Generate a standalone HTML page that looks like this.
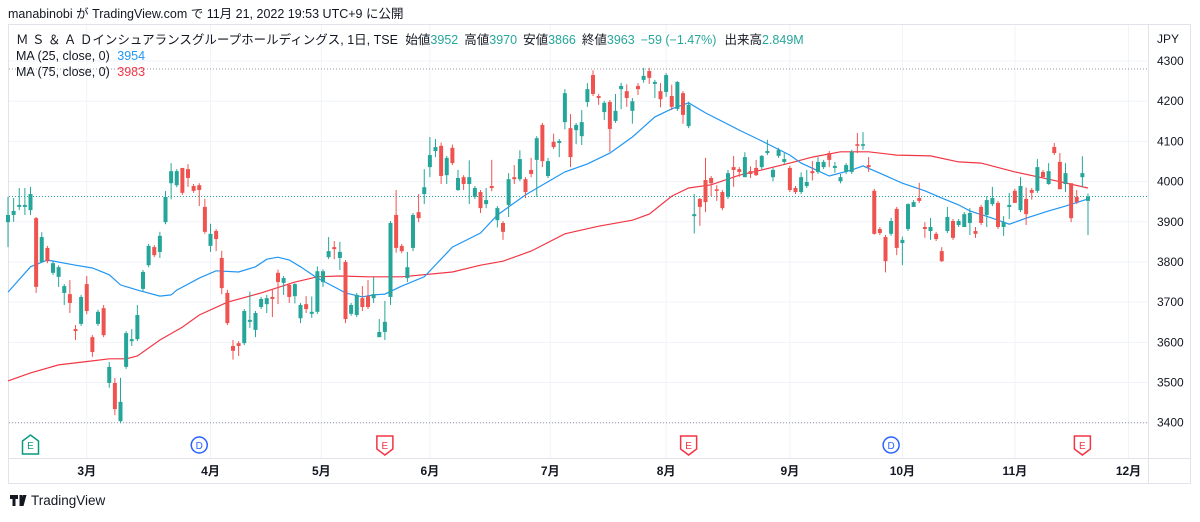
<!DOCTYPE html>
<html><head><meta charset="utf-8">
<style>
body{margin:0;background:#fff;width:1200px;height:517px;overflow:hidden;font-family:"Liberation Sans","Noto Sans CJK JP",sans-serif;}
svg text{font-family:"Liberation Sans","Noto Sans CJK JP",sans-serif;}
</style></head>
<body>
<svg id="chart" width="1200" height="517" xmlns="http://www.w3.org/2000/svg">
<text x="8" y="18" font-size="12.5" fill="#131722">manabinobi が TradingView.com で 11月 21, 2022 19:53 UTC+9 に公開</text>
<rect x="8.5" y="24.5" width="1182" height="459" fill="none" stroke="#e0e3eb"/>
<line x1="1148.5" y1="24" x2="1148.5" y2="484" stroke="#e0e3eb"/>
<line x1="8" y1="458.5" x2="1191" y2="458.5" stroke="#e0e3eb"/>
<g id="grid"></g>
<g id="refs"></g>
<g id="mas"></g>
<g id="candles"></g>
<g id="yaxis"></g>
<g id="xaxis"></g>
<g id="events"></g>
<text x="1157" y="43" font-size="12" fill="#131722">JPY</text>
<text x="16" y="44" font-size="12.5" fill="#131722">Ｍ Ｓ ＆ Ａ Ｄインシュアランスグループホールディングス, 1日, TSE <tspan dx="4">始値</tspan><tspan fill="#26a69a">3952</tspan><tspan dx="6">高値</tspan><tspan fill="#26a69a">3970</tspan><tspan dx="6">安値</tspan><tspan fill="#26a69a">3866</tspan><tspan dx="6">終値</tspan><tspan fill="#26a69a">3963</tspan><tspan dx="6" fill="#26a69a">−59 (−1.47%)</tspan><tspan dx="8">出来高</tspan><tspan fill="#26a69a">2.849M</tspan></text>
<text x="16" y="60" font-size="12.5" fill="#131722">MA (25, close, 0) <tspan dx="4" fill="#2196f3">3954</tspan></text>
<text x="16" y="76" font-size="12.5" fill="#131722">MA (75, close, 0) <tspan dx="4" fill="#f23645">3983</tspan></text>
<g>
<path d="M10 495h8v4h-2.5v7h-3v-7h-2.5z M19.5 495h3v11h-3z M23 495h3.5l-3 11h-3z" fill="#131722"/>
<text x="31" y="505" font-size="13.5" fill="#131722">TradingView</text>
</g>
</svg>
<script>
const opens=[3899,3917,3937,3937,3929,3909,3800,3835,3773,3763,3723,3720,3633,3646,3745,3613,3646,3685,3499,3499,3404,3539,3603,3608,3733,3792,3837,3825,3899,3996,3991,4034,4031,3989,3991,3937,3840,3877,3810,3723,3591,3598,3598,3651,3631,3688,3695,3713,3773,3748,3743,3715,3660,3695,3671,3676,3750,3812,3837,3810,3800,3671,3668,3710,3715,3710,3613,3626,3713,3917,3840,3760,3835,3924,3969,4036,4076,4089,4016,4084,3979,4011,3994,3962,3974,3944,3989,3904,3897,3942,4011,4006,4006,4029,4054,4141,4014,4099,4096,4148,4133,4128,4113,4198,4265,4213,4173,4198,4151,4230,4225,4176,4238,4253,4275,4243,4225,4223,4213,4181,4220,4138,3914,3957,4004,4009,3981,3974,3962,4036,4031,4011,4026,4034,4036,4071,4011,4064,4049,4034,3984,3974,3989,4026,4024,4036,4071,4034,4001,4024,4024,4093,4089,4041,3977,3882,3862,3870,3932,3847,3882,3937,3959,3887,3877,3870,3827,3877,3902,3892,3887,3897,3877,3937,3917,3944,3947,3887,3937,3977,3929,3957,3979,3977,4024,3994,4086,4049,3994,3996,3962,4011,3952];
const closes=[3917,3927,3942,3942,3969,3738,3862,3802,3797,3787,3740,3698,3628,3713,3678,3576,3676,3618,3539,3434,3452,3623,3608,3668,3775,3840,3817,3865,3962,4026,4026,3972,4009,3977,3979,3875,3870,3857,3735,3648,3579,3591,3678,3656,3673,3708,3710,3708,3750,3760,3713,3745,3693,3683,3676,3777,3777,3827,3832,3825,3658,3693,3718,3688,3688,3720,3626,3651,3897,3835,3827,3787,3917,3909,3986,4066,4086,4014,4059,4046,4009,3994,4011,3984,3934,3954,3984,3934,3875,4006,4006,4056,3974,4019,4108,4051,4051,4086,4101,4220,4061,4141,4148,4230,4218,4208,4196,4131,4176,4238,4208,4200,4230,4263,4258,4248,4205,4265,4186,4248,4166,4191,3919,3937,3949,3996,3977,3934,4021,4029,4024,4061,4019,4016,4064,4076,4029,4079,4056,3979,3974,4011,3999,4021,4049,4049,4054,4039,4011,4041,4074,4089,4093,4036,3870,3872,3802,3902,3835,3855,3944,3949,3952,3882,3887,3857,3802,3912,3860,3902,3919,3922,3870,3897,3954,3959,3887,3899,3942,3947,3989,3919,3972,4036,4011,4026,4071,3981,4021,3909,3949,4021,3963];
const upperWick=[45,32,42,42,18,3,12,5,5,5,5,35,10,5,20,5,5,8,12,12,60,5,25,25,5,5,5,10,15,20,5,0,12,5,5,20,25,5,18,8,15,5,5,70,5,5,8,20,8,5,5,2,5,20,38,12,5,35,15,25,5,5,5,30,40,42,32,52,5,62,5,38,5,45,45,45,20,8,5,8,20,5,42,5,5,30,65,5,5,15,30,22,5,30,5,5,8,20,5,10,35,5,30,15,12,5,5,5,42,8,17,8,7,20,8,5,20,5,28,2,5,8,50,2,55,5,10,5,8,28,5,12,12,20,2,28,5,5,15,5,5,12,30,25,12,5,5,10,8,5,5,28,30,20,5,5,5,8,5,8,2,5,38,12,22,5,10,25,5,5,5,12,10,5,10,28,5,15,30,5,22,28,5,20,5,20,10,22,25,0,17,42,7];
const lowerWick=[62,17,8,20,12,15,0,5,5,25,30,25,22,5,8,12,5,5,12,15,5,5,12,5,5,5,5,15,5,40,5,5,22,5,40,5,15,30,15,5,22,25,5,15,18,5,22,45,55,30,15,18,12,10,10,5,12,5,25,30,10,5,5,10,5,12,0,20,20,12,5,10,8,10,25,25,15,20,22,5,2,15,50,5,12,10,8,18,20,30,12,5,15,8,92,15,5,5,35,18,25,35,22,12,5,17,20,57,5,50,22,32,15,7,15,35,20,12,8,5,22,5,43,47,25,32,25,5,5,42,12,0,10,2,5,5,10,5,5,5,5,5,5,18,5,5,18,12,5,5,5,18,10,12,2,5,28,5,18,55,5,0,5,22,22,5,2,5,5,5,0,30,10,5,30,5,5,22,30,0,5,27,17,5,0,2,5,0,20,10,5,25,85];
const ma25Idx=[0,4,7,12,15,18,20,23,27,29,30,34,37,41,44,46,48,50,52,55,58,60,63,65,67,70,74,79,84,87,92,99,103,107,111,115,118,121,124,130,134,139,141,146,150,152,155,159,163,166,169,171,175,178,181,185,188,192];
const ma25Val=[3725,3788,3805,3792,3785,3768,3743,3730,3715,3718,3730,3760,3778,3775,3788,3807,3812,3805,3788,3760,3738,3723,3713,3718,3720,3740,3763,3837,3872,3917,3967,4024,4044,4071,4111,4161,4181,4196,4171,4128,4101,4066,4046,4014,4029,4039,4021,3996,3977,3959,3942,3927,3909,3894,3909,3927,3939,3957];
const ma75Idx=[0,4,9,15,18,21,23,27,31,34,39,45,51,55,59,64,70,79,84,88,93,99,105,111,114,118,121,125,130,134,139,143,148,153,158,164,169,173,179,185,192];
const ma75Val=[3504,3524,3544,3554,3559,3559,3566,3606,3638,3668,3700,3723,3750,3763,3765,3763,3763,3775,3792,3802,3827,3870,3889,3904,3919,3964,3984,3992,4016,4029,4046,4061,4074,4074,4066,4064,4049,4046,4024,4006,3984];
const yTicks=[4300,4200,4100,4000,3900,3800,3700,3600,3500,3400];
const monthLabels=["3月","4月","5月","6月","7月","8月","9月","10月","11月","12月"];
const monthIdx=[14,36,55.7,75,96.4,117,139,159,179,199.2];
const eventIdx=[4,34,67,121,157,191];
const eventType=["E","D","E","E","D","E"];
const eventColor=["#089981","#2962ff","#f23645","#f23645","#2962ff","#f23645"];
const lastPrice=3963, periodHigh=4280, periodLow=3400;

const NS="http://www.w3.org/2000/svg";
const xS=i=>8+i*5.625;
const yS=p=>(4451.8-p)/2.488;
function mk(tag,attrs,parent){const e=document.createElementNS(NS,tag);for(const k in attrs)e.setAttribute(k,attrs[k]);parent.appendChild(e);return e;}
const G=id=>document.getElementById(id);

// grid
yTicks.forEach(t=>{const l=mk('line',{x1:9,x2:1148,y1:yS(t),y2:yS(t),stroke:'#f0f3fa'},G('grid'));


const tx=mk('text',{x:1157,y:yS(t)+4,'font-size':12,fill:'#131722'},G('yaxis'));tx.textContent=t;

});
monthIdx.forEach((m,k)=>{const l=mk('line',{x1:xS(m),x2:xS(m),y1:25,y2:458,stroke:'#f0f3fa'},G('grid'));


const tx=mk('text',{x:xS(m),y:475,'font-size':12,'font-weight':'bold','text-anchor':'middle',fill:'#131722'},G('xaxis'));tx.textContent=monthLabels[k];

});

// reference lines
[[periodHigh,'#9598a1'],[periodLow,'#9598a1'],[lastPrice,'#26a69a']].forEach(r=>{const l=mk('line',{x1:9,x2:1148,y1:yS(r[0]),y2:yS(r[0]),stroke:r[1],'stroke-dasharray':'1 2'},G('refs'));

});

// MAs
function ma(idx,val,col,name){const pts=idx.map((i,k)=>xS(i).toFixed(1)+','+yS(val[k]).toFixed(1)).join(' ');
const p=mk('polyline',{points:pts,fill:'none',stroke:col,'stroke-width':1.2},G('mas'));

}
ma(ma75Idx,ma75Val,'#f23645','ma75-line');
ma(ma25Idx,ma25Val,'#2196f3','ma25-line');

// candles
opens.forEach((o,i)=>{const c=closes[i];const up=c>=o;const col=up?'#26a69a':'#ef5350';
const hi=Math.max(o,c)+upperWick[i],lo=Math.min(o,c)-lowerWick[i];const x=xS(i);
const w=mk('line',{x1:x,x2:x,y1:yS(hi),y2:yS(lo),stroke:col,'stroke-width':1},G('candles'));


const top=yS(Math.max(o,c)),bot=yS(Math.min(o,c));
const b=mk('rect',{x:x-2,y:top,width:4,height:Math.max(1,bot-top),fill:col},G('candles'));

});

// events
eventIdx.forEach((ei,k)=>{const x=xS(ei),y=445,col=eventColor[k];const g=mk('g',{},G('events'));


if(eventType[k]==='D'){mk('circle',{cx:x,cy:y,r:8,fill:'#fff',stroke:col,'stroke-width':1.5},g);}
else if(col==='#089981'){mk('path',{d:`M${x-8} ${y-4}L${x} ${y-10}L${x+8} ${y-4}V${y+9}H${x-8}Z`,fill:'#fff',stroke:col,'stroke-width':1.5},g);}
else{mk('path',{d:`M${x-8} ${y-9}H${x+8}V${y+4}L${x} ${y+10}L${x-8} ${y+4}Z`,fill:'#fff',stroke:col,'stroke-width':1.5},g);}
const t=mk('text',{x:x,y:y+4,'font-size':10,'text-anchor':'middle',fill:col},g);t.textContent=eventType[k];});
</script>
</body></html>
